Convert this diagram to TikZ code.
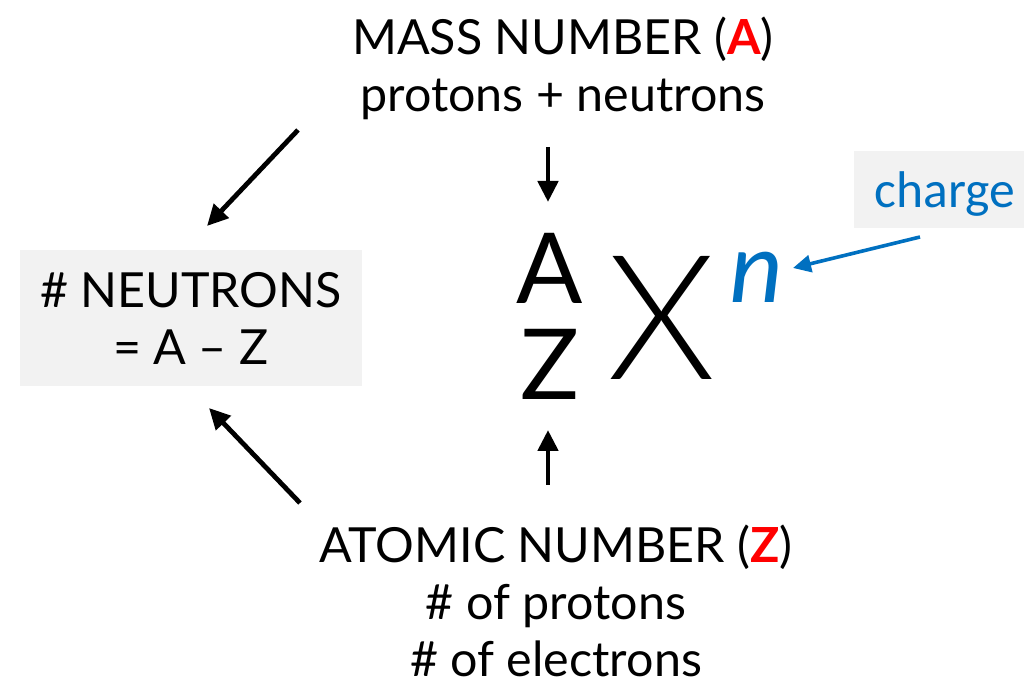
\documentclass[tikz,border=0pt]{standalone}
\usepackage{fontspec}
\setmainfont{Lato}
\newfontfamily\chargefont{Carlito}
\newfontfamily\thinfont{Lato Light}
\usetikzlibrary{arrows.meta,positioning}
\definecolor{chargeblue}{HTML}{0070C0}
\definecolor{boxgray}{HTML}{F2F2F2}
\tikzset{
  txt/.style={align=center,inner sep=0pt,font=\fontsize{24.2}{28.5}\selectfont},
  grbox/.style={fill=boxgray,inner sep=0pt},
  bigsym/.style={inner sep=0pt,font=\fontsize{49}{49}\selectfont},
  arr/.style={-{Triangle[length=10.5pt,width=10pt]},line width=2.4pt},
  blarr/.style={-{Triangle[length=9pt,width=8.5pt]},chargeblue,line width=1.8pt},
}

\begin{document}
\begin{tikzpicture}[x=0.5pt,y=-0.5pt]
  \useasboundingbox (0,0) rectangle (1024,678);
  % labels
  \node[txt] (mass) at (563,68) {MASS NUMBER (\textcolor{red}{\textbf{A}})\\protons + neutrons};
  \node[txt] (atomic) at (556,601) {ATOMIC NUMBER (\textcolor{red}{\textbf{Z}})\\\# of protons\\\# of electrons};
  \node[grbox,minimum width=171pt,minimum height=68pt] (nbox) at (191,318) {};
  \node[txt] (neutr) at (nbox) {\# NEUTRONS\\= A -- Z};
  \node[grbox,minimum width=85pt,minimum height=38.5pt] (cbox) at (939,189.5) {};
  \node[inner sep=0pt,text=chargeblue,font=\chargefont\fontsize{25.8}{25.8}\selectfont] (charge) at (945,194) {charge};
  % nuclide symbol
  \node[bigsym] (symA) at (550,268) {A};
  \node[bigsym] (symZ) at (550,364) {Z};
  \node[inner sep=0pt,font=\thinfont\fontsize{87}{87}\selectfont] (symX) at (662,317.5) {X};
  \node[inner sep=0pt,text=chargeblue,font=\chargefont\itshape\fontsize{52}{52}\selectfont] (symn) at (756,277.5) {n};
  % arrows
  \coordinate (d1) at (548,147); \coordinate (d2) at (548,202);
  \coordinate (u1) at (548,485); \coordinate (u2) at (548,430);
  \coordinate (l1) at (298,130); \coordinate (l2) at (207,226);
  \coordinate (m1) at (300,503); \coordinate (m2) at (209,408);
  \coordinate (c1) at (920,237); \coordinate (c2) at (793,268);
  \draw[arr] (d1) -- (d2);
  \draw[arr] (u1) -- (u2);
  \draw[arr] (l1) -- (l2);
  \draw[arr] (m1) -- (m2);
  \draw[blarr] (c1) -- (c2);
\end{tikzpicture}
\end{document}
